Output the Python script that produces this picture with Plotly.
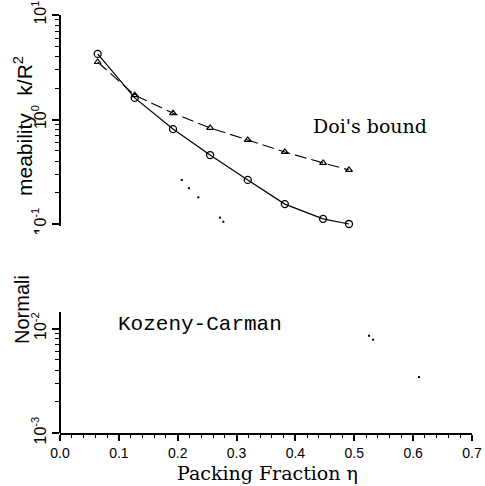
import plotly.graph_objects as go

# ---- data ----
eta = [0.064, 0.127, 0.192, 0.255, 0.319, 0.382, 0.447, 0.491]
k_sim = [4.24, 1.61, 0.81, 0.457, 0.264, 0.155, 0.112, 0.100]
k_doi = [3.55, 1.71, 1.15, 0.83, 0.637, 0.489, 0.384, 0.329]
kc_eta = [0.207, 0.219, 0.235, 0.272, 0.2775, 0.525, 0.532, 0.610]
kc_k = [0.264, 0.220, 0.180, 0.115, 0.105, 0.00853, 0.00781, 0.00343]

x_tickvals = [0.0, 0.1, 0.2, 0.3, 0.4, 0.5, 0.6, 0.7]
x_ticktext = ["0.0", "0.1", "0.2", "0.3", "0.4", "0.5", "0.6", "0.7"]
y_tickvals = [1e-3, 1e-2, 1e-1, 1e0, 1e1]
y_ticktext = ["10<sup>-3</sup>", "10<sup>-2</sup>", "10<sup>-1</sup>", "10<sup>0</sup>", "10<sup>1</sup>"]
y_minor = [m * 10 ** e for e in range(-3, 1) for m in range(2, 10)]
x_minor = [i / 50 for i in range(0, 36)]

W, H = 485, 486
PX0, PX1 = 60, 472      # page x of plot area
PY0, PY1 = 15, 433      # page y of plot area
L, T, R, B = PX0, PY0, W - PX1, H - PY1


def px(x):
    return (x - PX0) / (PX1 - PX0)


def py(y):
    return (PY1 - y) / (PY1 - PY0)


fig = go.Figure()
fig.add_trace(go.Scatter(x=eta, y=k_doi, mode="lines+markers",
                         line=dict(color="black", width=1.1, dash="12px,5px"),
                         marker=dict(symbol="triangle-up-open", size=6, color="black",
                                     line=dict(width=1.2))))
fig.add_trace(go.Scatter(x=eta, y=k_sim, mode="lines+markers",
                         line=dict(color="black", width=1.2),
                         marker=dict(symbol="circle-open", size=7, color="black",
                                     line=dict(width=1.3)),
                         cliponaxis=False))
fig.add_trace(go.Scatter(x=kc_eta, y=kc_k, mode="markers",
                         marker=dict(symbol="square", size=2, color="black")))

fig.update_layout(
    width=W, height=H,
    margin=dict(l=L, r=R, t=T, b=B, autoexpand=False),
    paper_bgcolor="white", plot_bgcolor="white",
    showlegend=False,
    xaxis=dict(range=[0, 0.7], showgrid=False, zeroline=False, automargin=False,
               showline=True, linecolor="black", linewidth=2,
               ticks="outside", ticklen=6, tickwidth=1.5, tickcolor="black",
               tickvals=x_tickvals, ticktext=x_ticktext,
               tickfont=dict(family="Liberation Sans", size=14, color="black"),
               ticklabelstandoff=0,
               minor=dict(tickvals=x_minor, ticks="outside", ticklen=3,
                          tickwidth=1.2, tickcolor="black")),
    yaxis=dict(type="log", range=[-3, 1], showgrid=False, zeroline=False,
               showline=False, automargin=False, ticklabeloverflow="allow",
               ticks="outside", ticklen=7, tickwidth=1.5, tickcolor="black",
               tickvals=y_tickvals, ticktext=y_ticktext, tickangle=-90,
               tickfont=dict(family="Liberation Sans", size=16, color="black"),
               minor=dict(tickvals=y_minor, ticks="outside", ticklen=4,
                          tickwidth=1.2, tickcolor="black")),
    shapes=[
        dict(type="rect", xref="paper", yref="paper", x0=-0.05, x1=-0.001,
             y0=py(312), y1=py(227), fillcolor="white", line=dict(width=0), layer="above"),
        dict(type="line", xref="paper", yref="paper", x0=0, x1=0, y0=0, y1=py(312),
             line=dict(color="black", width=2), layer="above"),
        dict(type="line", xref="paper", yref="paper", x0=0, x1=0, y0=py(226), y1=1,
             line=dict(color="black", width=2), layer="above"),
    ],
    annotations=[
        dict(text="Doi's bound", xref="paper", yref="paper", x=px(370),
             y=py(126), showarrow=False, xanchor="center", yanchor="middle",
             font=dict(family="DejaVu Serif", size=19, color="black")),
        dict(text="Kozeny-Carman", xref="paper", yref="paper", x=px(200),
             y=py(324), showarrow=False, xanchor="center", yanchor="middle",
             font=dict(family="Liberation Mono", size=21, color="black")),
        dict(text="Packing Fraction η", xref="paper", yref="paper", x=px(267),
             y=py(473), showarrow=False, xanchor="center", yanchor="middle",
             font=dict(family="DejaVu Serif", size=19, color="black")),
        dict(text="meability&nbsp;&nbsp;&nbsp;k/R<sup>2</sup>", xref="paper", yref="paper",
             x=px(23), y=py(126), textangle=-90, showarrow=False,
             xanchor="center", yanchor="middle",
             font=dict(family="Liberation Sans", size=21, color="black")),
        dict(text="Normali", xref="paper", yref="paper",
             x=px(22), y=py(310), textangle=-90, showarrow=False,
             xanchor="center", yanchor="middle",
             font=dict(family="Liberation Sans", size=20, color="black")),
    ],
)

fig.write_html("out.html", config={"displayModeBar": False},
               post_script="document.body.style.margin='0';")
